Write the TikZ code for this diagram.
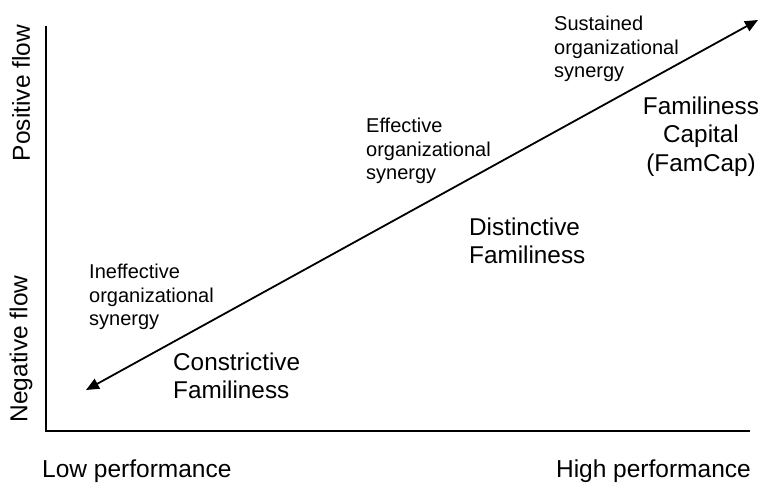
\documentclass[tikz,border=0pt]{standalone}
\usepackage{fontspec}
\setmainfont{Liberation Sans}
\usetikzlibrary{arrows.meta}

\tikzset{
  synlbl/.style = {align=left, anchor=west, inner sep=0pt, font=\fontsize{20}{23.7}\selectfont},
  famlbl/.style = {align=left, anchor=west, inner sep=0pt, font=\fontsize{24.3}{28.3}\selectfont},
  axlbl/.style  = {inner sep=0pt, font=\fontsize{24.5}{28}\selectfont}
}

\begin{document}
\begin{tikzpicture}[x=1pt, y=-1pt]
\useasboundingbox (0,0) rectangle (761,484);
% axes
\coordinate (top) at (46,26);
\coordinate (origin) at (46,431);
\coordinate (right) at (750,431);
\draw[line width=1.5pt] (top) -- (origin) -- (right);
\node[axlbl, rotate=90] (pos) at (21,93) {Positive flow};
\node[axlbl, rotate=90] (neg) at (21,349) {Negative flow};
\node[axlbl, anchor=west] (low) at (42,471) {Low performance};
\node[axlbl, anchor=east] (high) at (751,471) {High performance};
% the flow line
\coordinate (lo) at (86,390);
\coordinate (hi) at (758,20);
\draw[line width=1.8pt, {Triangle[length=13pt,width=11pt]}-{Triangle[length=13pt,width=11pt]}] (lo) -- (hi);
% labels along it
\node[synlbl] (ineff) at (89,297) {Ineffective\\organizational\\synergy};
\node[famlbl] (constr) at (173,376) {Constrictive\\Familiness};
\node[synlbl] (eff) at (366,151) {Effective\\organizational\\synergy};
\node[famlbl] (distinct) at (469,241) {Distinctive\\Familiness};
\node[synlbl] (sust) at (554,49) {Sustained\\organizational\\synergy};
\node[famlbl, align=center, anchor=center] (famcap) at (701,136.5) {Familiness\\Capital\\(FamCap)};
\end{tikzpicture}
\end{document}
